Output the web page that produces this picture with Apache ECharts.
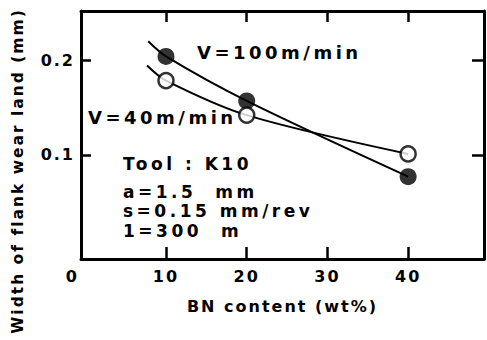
<!DOCTYPE html>
<html>
<head>
<meta charset="utf-8">
<script src="https://cdn.jsdelivr.net/npm/echarts@6/dist/echarts.min.js"></script>
<style>
  html, body { margin: 0; padding: 0; background: #fff; }
  #chart { width: 487px; height: 340px; }
</style>
</head>
<body>
<div id="chart"></div>
<script>
// BN content (wt%) and flank wear (mm)
var bnContent = [10, 20, 40];
var wearV100 = [0.204, 0.157, 0.077];
var wearV40 = [0.1785, 0.142, 0.101];
// where each drawn curve starts, a bit before the first point
var leadV100 = [7.8, 0.220];
var leadV40 = [7.65, 0.1945];

var xTickLabels = [0, 10, 20, 30, 40];
var xTicks = [10, 20, 30, 40];
var yTicks = [0.1, 0.2];

var FONT = 'DejaVu Sans';
var XMIN = -0.53, XMAX = 49.4;
var YMIN = -0.01, YMAX = 0.252;

function pairs(xs, ys) {
	var out = [];
	for (var i = 0; i < xs.length; i++) {
		out.push([xs[i], ys[i]]);
	}
	return out;
}

function line() {
	return { show: true, onZero: false, lineStyle: { color: '#000', width: 3 } };
}
function ticks(len, vals) {
	return { inside: true, length: len, customValues: vals, lineStyle: { color: '#000', width: 2.5 } };
}

var chart = echarts.init(document.getElementById('chart'), null, { renderer: 'svg' });

var option = {
	animation: false,
	backgroundColor: '#fff',
	grid: { left: 81, right: 3, top: 11, bottom: 81, outerBoundsMode: 'none' },
	xAxis: [
		{
			type: 'value', min: XMIN, max: XMAX,
			axisLine: line(),
			splitLine: { show: false },
			axisTick: ticks(12, xTicks),
			axisLabel: {
				customValues: xTickLabels, margin: 9,
				color: '#000', fontFamily: FONT, fontSize: 16, fontWeight: 'bold',
				formatter: function(v) { return v === 0 ? '{z|0}' : String(v); },
				rich: { z: { padding: [0, 26, 0, 0], fontFamily: FONT, fontSize: 16, fontWeight: 'bold', color: '#000' } }
			},
			name: 'BN content (wt%)', nameLocation: 'middle', nameGap: 39,
			nameTextStyle: { color: '#000', fontFamily: FONT, fontSize: 16, fontWeight: 'bold' }
		},
		{
			type: 'value', position: 'top', min: XMIN, max: XMAX,
			axisLine: line(),
			splitLine: { show: false },
			axisTick: ticks(11, xTicks),
			axisLabel: { show: false }
		}
	],
	yAxis: [
		{
			type: 'value', min: YMIN, max: YMAX,
			axisLine: line(),
			splitLine: { show: false },
			axisTick: ticks(10, yTicks),
			axisLabel: {
				customValues: yTicks, margin: 6,
				color: '#000', fontFamily: FONT, fontSize: 16, fontWeight: 'bold',
				formatter: function(v) { return v.toFixed(1); }
			}
		},
		{
			type: 'value', position: 'right', min: YMIN, max: YMAX,
			axisLine: line(),
			splitLine: { show: false },
			axisTick: ticks(12, yTicks),
			axisLabel: { show: false }
		}
	],
	series: [
		{
			type: 'line', smooth: 0.3, symbol: 'none',
			lineStyle: { color: '#000', width: 2 },
			data: [leadV100].concat(pairs(bnContent, wearV100))
		},
		{
			type: 'line', smooth: 0.3, symbol: 'none',
			lineStyle: { color: '#000', width: 2 },
			data: [leadV40].concat(pairs(bnContent, wearV40))
		},
		{
			type: 'scatter', symbol: 'circle', symbolSize: 17, z: 5,
			itemStyle: { color: '#000' },
			data: pairs(bnContent, wearV100)
		},
		{
			type: 'scatter', symbol: 'circle', symbolSize: 15, z: 5,
			itemStyle: { color: '#fff', borderColor: '#000', borderWidth: 2.5 },
			data: pairs(bnContent, wearV40)
		}
	],
	graphic: [
		{ type: 'text', x: 18, y: 171, rotation: Math.PI / 2,
		  style: { text: 'Width of flank wear land (mm)', font: 'bold 15.5px "DejaVu Sans"', fill: '#000', align: 'center', verticalAlign: 'middle' } },
		{ type: 'text', x: 197, y: 52,
		  style: { text: 'V=100m/min', font: 'bold 18px "DejaVu Sans"', fill: '#000', verticalAlign: 'middle' } },
		{ type: 'text', x: 88, y: 117,
		  style: { text: 'V=40m/min', font: 'bold 18px "DejaVu Sans"', fill: '#000', verticalAlign: 'middle' } },
		{ type: 'text', x: 123, y: 164,
		  style: { text: 'Tool : K10', font: 'bold 17px "DejaVu Sans"', fill: '#000', verticalAlign: 'middle' } },
		{ type: 'text', x: 123, y: 192,
		  style: { text: 'a=1.5  mm', font: 'bold 17px "DejaVu Sans"', fill: '#000', verticalAlign: 'middle' } },
		{ type: 'text', x: 123, y: 211,
		  style: { text: 's=0.15 mm/rev', font: 'bold 17px "DejaVu Sans"', fill: '#000', verticalAlign: 'middle' } },
		{ type: 'text', x: 123, y: 231,
		  style: { text: '1=300  m', font: 'bold 17px "DejaVu Sans"', fill: '#000', verticalAlign: 'middle' } }
	]
};

chart.setOption(option);

// the scanned figure uses widely spaced lettering
var spaceText = function() {
	var nodes = document.querySelectorAll('#chart text');
	for (var i = 0; i < nodes.length; i++) {
		var fs = parseFloat(getComputedStyle(nodes[i]).fontSize);
		nodes[i].style.letterSpacing = fs >= 17 ? '3.5px' : '2px';
	}
};
spaceText();
chart.on('finished', spaceText);
</script>
</body>
</html>
